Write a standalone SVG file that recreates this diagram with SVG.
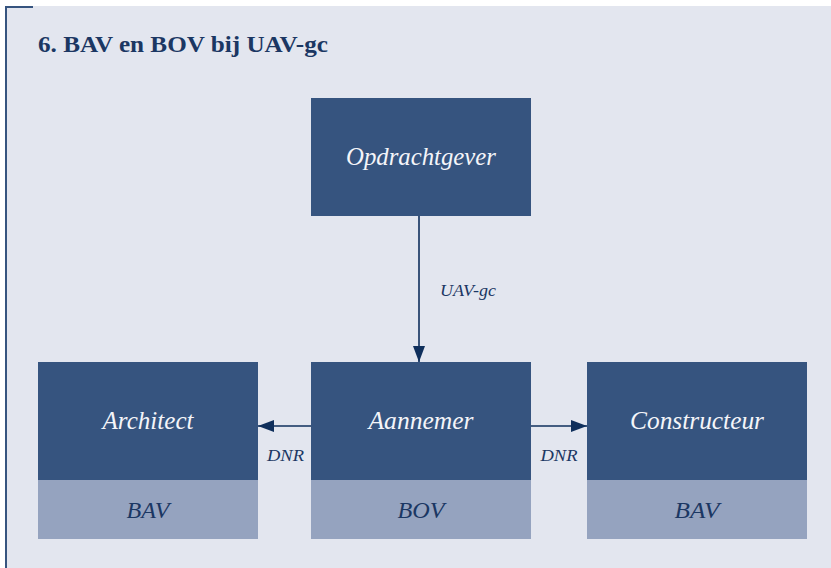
<svg xmlns="http://www.w3.org/2000/svg" width="831" height="568" viewBox="0 0 831 568">
<defs>
<style>
.dark{fill:#36547f}
.light{fill:#95a3bf}
.nt{font-family:"Liberation Serif",serif;font-style:italic;font-size:24.5px;fill:#f4f5f9;text-anchor:middle}
.st{font-family:"Liberation Serif",serif;font-style:italic;font-size:24px;fill:#1b3763;text-anchor:middle}
.lbl{font-family:"Liberation Serif",serif;font-style:italic;font-size:16px;fill:#1b3763;text-anchor:middle}
.conn{stroke:#0f2f5c;stroke-width:1.6;fill:none}
</style>
<marker id="ah" viewBox="0 0 16 12" refX="16" refY="6" markerWidth="16" markerHeight="12" markerUnits="userSpaceOnUse" orient="auto">
<path d="M0,0 L16,6 L0,12 Z" fill="#0f2f5c"/>
</marker>
</defs>
<rect x="0" y="0" width="831" height="568" fill="#ffffff"/>
<rect x="5" y="6" width="826" height="562" fill="#e3e6ef"/>
<path d="M6,568 V7 H33" stroke="#36547f" stroke-width="2" fill="none"/>
<text x="38" y="52" font-family="Liberation Serif,serif" font-weight="bold" font-size="23" fill="#1b3763" textLength="290" lengthAdjust="spacingAndGlyphs">6. BAV en BOV bij UAV-gc</text>
<g id="connectors">
<line class="conn" x1="419" y1="216" x2="419" y2="362" marker-end="url(#ah)"/>
<line class="conn" x1="311" y1="426" x2="258" y2="426" marker-end="url(#ah)"/>
<line class="conn" x1="531" y1="426" x2="587" y2="426" marker-end="url(#ah)"/>
<text class="lbl" x="468" y="296" textLength="56" lengthAdjust="spacingAndGlyphs">UAV-gc</text>
<text class="lbl" x="285.5" y="461" textLength="37" lengthAdjust="spacingAndGlyphs">DNR</text>
<text class="lbl" x="559" y="461" textLength="37" lengthAdjust="spacingAndGlyphs">DNR</text>
</g>
<g id="opdrachtgever">
<rect class="dark" x="311" y="98" width="220" height="118"/>
<text class="nt" x="421" y="165" textLength="150" lengthAdjust="spacingAndGlyphs">Opdrachtgever</text>
</g>
<g id="architect">
<rect class="dark" x="38" y="362" width="220" height="118"/>
<rect class="light" x="38" y="480" width="220" height="59"/>
<text class="nt" x="148" y="429" textLength="91" lengthAdjust="spacingAndGlyphs">Architect</text>
<text class="st" x="148" y="518" textLength="43" lengthAdjust="spacingAndGlyphs">BAV</text>
</g>
<g id="aannemer">
<rect class="dark" x="311" y="362" width="220" height="118"/>
<rect class="light" x="311" y="480" width="220" height="59"/>
<text class="nt" x="421" y="429" textLength="105" lengthAdjust="spacingAndGlyphs">Aannemer</text>
<text class="st" x="421" y="518" textLength="47" lengthAdjust="spacingAndGlyphs">BOV</text>
</g>
<g id="constructeur">
<rect class="dark" x="587" y="362" width="220" height="118"/>
<rect class="light" x="587" y="480" width="220" height="59"/>
<text class="nt" x="697" y="429" textLength="134" lengthAdjust="spacingAndGlyphs">Constructeur</text>
<text class="st" x="697" y="518" textLength="45" lengthAdjust="spacingAndGlyphs">BAV</text>
</g>
</svg>
